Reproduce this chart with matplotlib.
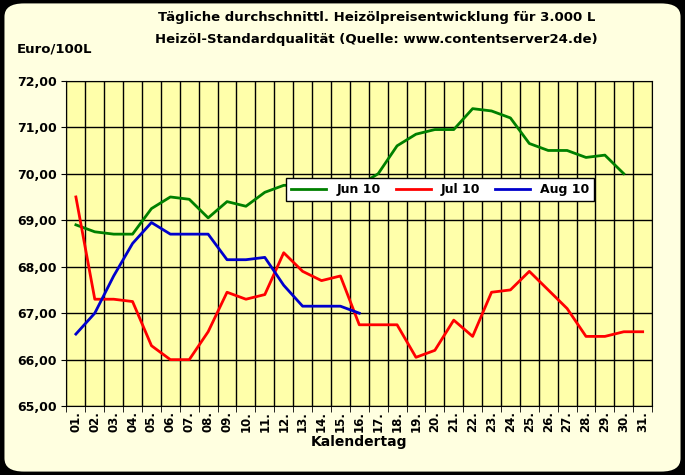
import numpy as np
import matplotlib
matplotlib.use("Agg")
import matplotlib.pyplot as plt
from matplotlib.patches import FancyBboxPatch

days = [f"{d:02d}." for d in range(1, 32)]
jun = [68.9, 68.75, 68.7, 68.7, 69.25, 69.5, 69.45, 69.05, 69.4, 69.3, 69.6, 69.75,
       69.75, 69.8, 69.75, 69.75, 70.0, 70.6, 70.85, 70.95, 70.95, 71.4, 71.35, 71.2,
       70.65, 70.5, 70.5, 70.35, 70.4, 70.0]
jul = [69.5, 67.3, 67.3, 67.25, 66.3, 66.0, 66.0, 66.6, 67.45, 67.3, 67.4, 68.3,
       67.9, 67.7, 67.8, 66.75, 66.75, 66.75, 66.05, 66.2, 66.85, 66.5, 67.45, 67.5,
       67.9, 67.5, 67.1, 66.5, 66.5, 66.6, 66.6]
aug = [66.55, 67.0, 67.8, 68.5, 68.95, 68.7, 68.7, 68.7, 68.15, 68.15, 68.2, 67.6,
       67.15, 67.15, 67.15, 67.0]

fig = plt.figure(figsize=(6.85, 4.75), dpi=100)
fig.patch.set_facecolor("black")
bg = FancyBboxPatch((0.005, 0.005), 0.99, 0.99, boxstyle="round,pad=0,rounding_size=0.03",
                    transform=fig.transFigure, facecolor="#FFFFE0", edgecolor="black",
                    lw=1.5, zorder=-10)
fig.patches.append(bg)

ax = fig.add_axes([0.097, 0.145, 0.855, 0.685])
ax.set_zorder(1)
ax.set_facecolor("#FFFFAA")
x = np.arange(1, 32)
ax.plot(x[:len(jun)], jun, color="#008000", lw=2, label="Jun 10")
ax.plot(x[:len(jul)], jul, color="#FF0000", lw=2, label="Jul 10")
ax.plot(x[:len(aug)], aug, color="#0000CC", lw=2, label="Aug 10")

ax.set_xlim(0.5, 31.5)
ax.set_ylim(65, 72)
ax.set_yticks(np.arange(65, 72.1, 1))
ax.set_yticklabels([f"{v:.2f}".replace(".", ",") for v in np.arange(65, 72.1, 1)],
                   fontsize=9, fontweight="bold")
ax.set_xticks(x)
ax.set_xticklabels(days, rotation=90, fontsize=8.5, fontweight="bold")
ax.set_xticks(np.arange(0.5, 32, 1), minor=True)
ax.grid(True, which="minor", axis="x", color="black", lw=1)
ax.grid(True, which="major", axis="y", color="black", lw=1)
ax.tick_params(axis="x", which="major", length=0)
ax.tick_params(axis="x", which="minor", length=4)
for s in ax.spines.values():
    s.set_color("black")
ax.set_xlabel("Kalendertag", fontsize=10, fontweight="bold", labelpad=2)

leg = ax.legend(loc="upper left", bbox_to_anchor=(0.365, 0.72), ncol=3, frameon=True,
                fancybox=False, edgecolor="black", framealpha=1,
                prop={"weight": "bold", "size": 9}, handlelength=2.8, columnspacing=1.2)

fig.text(0.55, 0.955, "Tägliche durchschnittl. Heizölpreisentwicklung für 3.000 L",
         ha="center", fontsize=9.5, fontweight="bold")
fig.text(0.55, 0.91, "Heizöl-Standardqualität (Quelle: www.contentserver24.de)",
         ha="center", fontsize=9.5, fontweight="bold")
fig.text(0.025, 0.89, "Euro/100L", fontsize=9.5, fontweight="bold")

fig.savefig("out.png", dpi=100, facecolor=fig.get_facecolor())
